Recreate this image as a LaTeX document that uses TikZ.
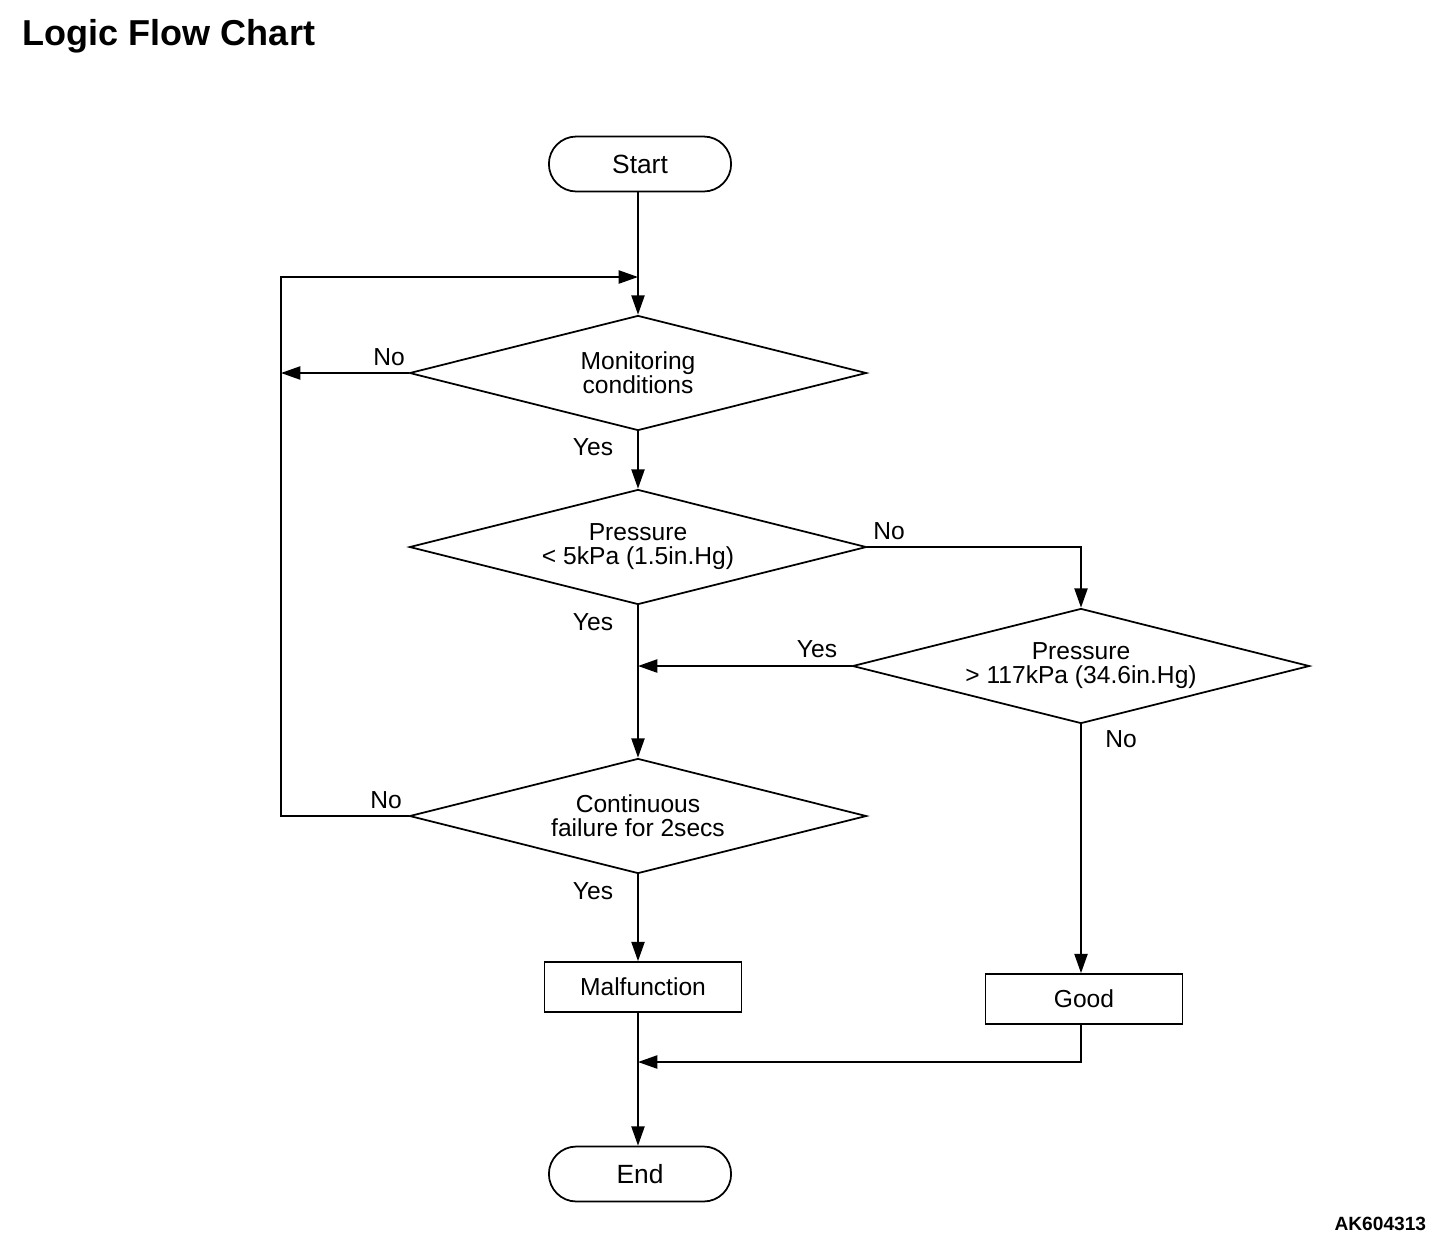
\documentclass[tikz,border=0pt]{standalone}
\usepackage{fontspec}
\setmainfont{Liberation Sans}
\usepackage{xcolor}
\usepackage{tikz}
\usetikzlibrary{shapes,arrows,arrows.meta,positioning,calc}

\begin{document}
\begin{tikzpicture}[
    x=0.02cm, y=-0.02cm,
    line width=1pt,
    >={Triangle[length=11pt, width=7.5pt]},
    term/.style={rounded rectangle, draw, minimum width=3.88cm, minimum height=1.1cm, font=\fontsize{15pt}{15pt}\selectfont},
    decision/.style={diamond, draw, aspect=4, inner sep=0pt, minimum width=9.14cm, minimum height=2.3cm, align=center, font=\fontsize{14pt}{13.6pt}\selectfont},
    process/.style={rectangle, draw, minimum width=3.94cm, minimum height=1cm, font=\fontsize{14pt}{14pt}\selectfont},
    lbl/.style={font=\fontsize{14pt}{14pt}\selectfont, inner sep=0pt}
]
    \useasboundingbox (0,0) rectangle (1456,1248);

    \node [anchor=base west, inner sep=0pt, font=\fontsize{20.5pt}{22pt}\selectfont\bfseries] (title) at (22,45) {Logic Flow Chart};
    \node [anchor=base east, inner sep=0pt, font=\fontsize{10.9pt}{12pt}\selectfont\bfseries] (code) at (1427,1230) {AK604313};

    \node [term] (start) at (640,164) {Start};
    \node [decision] (monitor) at (638,373) {Monitoring\\conditions};
    \node [decision] (press) at (638,547) {Pressure\\< 5kPa (1.5in.Hg)};
    \node [decision] (high) at (1081,666) {Pressure\\> 117kPa (34.6in.Hg)};
    \node [decision] (cont) at (638,816) {Continuous\\failure for 2secs};
    \node [process] (malf) at (643,987) {Malfunction};
    \node [process] (good) at (1084,999) {Good};
    \node [term] (stop) at (640,1174) {End};

    \coordinate (join) at (638,277);
    \coordinate (loopbot) at (281,816);
    \coordinate (merge) at (638,1062);

    % Connectors
    \draw [->] (start.south -| monitor.north) -- (monitor.north);
    \draw [->] (cont.west) -- (loopbot) |- (join);
    \draw [->] (monitor.west) -- (monitor.west -| loopbot);
    \draw [->] (monitor.south) -- (press.north);
    \draw [->] (press.east) -| (high.north);
    \draw [->] (high.west) -- (high.west -| press.south);
    \draw [->] (press.south) -- (cont.north);
    \draw [->] (cont.south) -- (cont.south |- malf.north);
    \draw [->] (high.south) -- (high.south |- good.north);
    \draw [->] (high.south |- good.south) |- (merge);
    \draw [->] (malf.south -| monitor.south) -- (stop.north -| monitor.south);

    % Labels
    \node [lbl] (monno) at (389,357) {No};
    \node [lbl] (monyes) at (593,447) {Yes};
    \node [lbl] (pressno) at (889,531) {No};
    \node [lbl] (pressyes) at (593,622) {Yes};
    \node [lbl] (highyes) at (817,649) {Yes};
    \node [lbl] (highno) at (1121,739) {No};
    \node [lbl] (contno) at (386,800) {No};
    \node [lbl] (contyes) at (593,891) {Yes};
\end{tikzpicture}
\end{document}
